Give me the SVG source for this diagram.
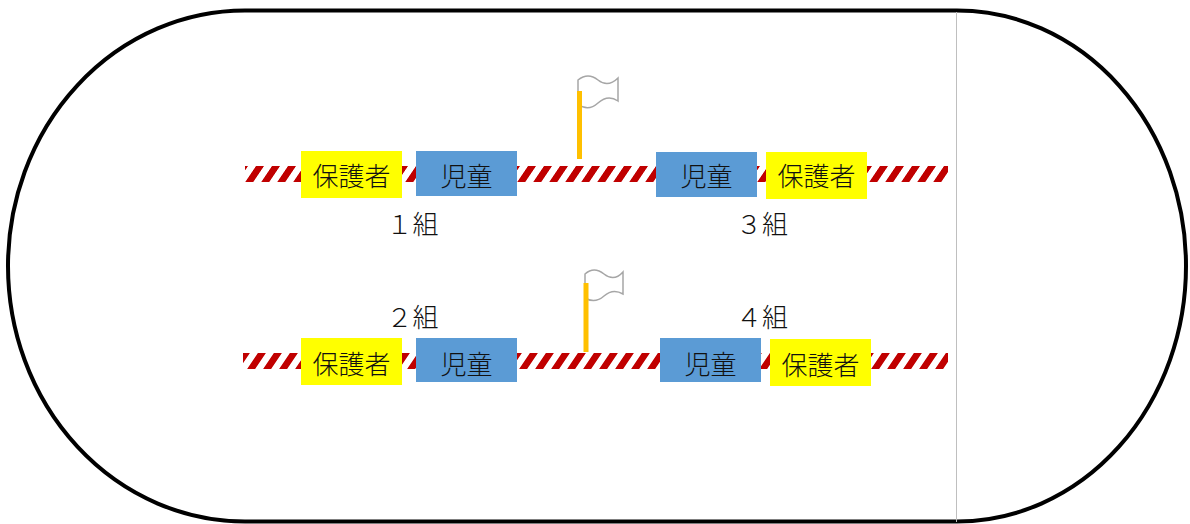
<svg xmlns="http://www.w3.org/2000/svg" width="1190" height="524" viewBox="0 0 1190 524">
  <style>
    .track{fill:none;stroke:#000;stroke-width:4}
    .divider{stroke:#BFBFBF;stroke-width:1}
    .stripe{fill:url(#stripes)}
    .guard{fill:#FFFF00}
    .child{fill:#5B9BD5}
    .t{font-family:"Noto Sans CJK JP","Noto Sans CJK SC",sans-serif;font-size:26px;font-weight:300;fill:#111;text-anchor:middle}
    .lbl{font-family:"Noto Sans CJK JP","Noto Sans CJK SC",sans-serif;font-size:26px;font-weight:300;fill:#111;text-anchor:middle}
    .pole{fill:#FFC000}
    .flag{fill:#fff;stroke:#A6A6A6;stroke-width:1.5}
  </style>
  <defs>
    <pattern id="stripes" patternUnits="userSpaceOnUse" width="16" height="16" patternTransform="skewX(-34)">
      <rect x="0" y="0" width="16" height="16" fill="#fff"/>
      <rect x="0" y="0" width="8" height="16" fill="#C00000"/>
    </pattern>
  </defs>
  <rect width="1190" height="524" fill="#fff"/>
  <g id="track">
    <path class="track" d="M245,10.5 L957,10.5 A229,255.5 0 0 1 957,521.5 L245,521.5 A237,255.5 0 0 1 245,10.5 Z"/>
    <line class="divider" x1="956.5" y1="12" x2="956.5" y2="522"/>
  </g>
  <g id="lines">
    <rect class="stripe" x="245" y="166" width="703" height="16"/>
    <rect class="stripe" x="243" y="353" width="705" height="16"/>
  </g>
  <g id="flag1">
    <path class="flag" d="M578,80 Q588,72 598,80 T618,78 L618,101 Q608,94 598,103 T578,104 Z"/>
    <rect class="pole" x="577" y="91" width="5" height="68"/>
  </g>
  <g id="flag2">
    <path class="flag" d="M585,274 Q594,266 604,274 T623,272 L623,294 Q613,288 604,296 T585,298 Z"/>
    <rect class="pole" x="583.5" y="283" width="5" height="69"/>
  </g>
  <g id="g1-guardian"><rect class="guard" x="301" y="151" width="101" height="47"/><text class="t" x="351.5" y="186">保護者</text></g>
  <g id="g1-child"><rect class="child" x="416" y="151" width="101" height="45"/><text class="t" x="466.5" y="186">児童</text></g>
  <g id="g3-child"><rect class="child" x="656" y="152" width="101" height="45"/><text class="t" x="706.5" y="186">児童</text></g>
  <g id="g3-guardian"><rect class="guard" x="766" y="152" width="101" height="47"/><text class="t" x="816.5" y="186">保護者</text></g>
  <g id="g2-guardian"><rect class="guard" x="301" y="338" width="101" height="47"/><text class="t" x="351.5" y="374">保護者</text></g>
  <g id="g2-child"><rect class="child" x="416" y="338" width="101" height="44"/><text class="t" x="466.5" y="374">児童</text></g>
  <g id="g4-child"><rect class="child" x="660" y="338" width="101" height="44"/><text class="t" x="710.5" y="374">児童</text></g>
  <g id="g4-guardian"><rect class="guard" x="770" y="339" width="101" height="47"/><text class="t" x="820.5" y="375">保護者</text></g>
  <g id="label1"><text class="lbl" x="412.5" y="234">１組</text></g>
  <g id="label3"><text class="lbl" x="762" y="234">３組</text></g>
  <g id="label2"><text class="lbl" x="412.5" y="327">２組</text></g>
  <g id="label4"><text class="lbl" x="762" y="327">４組</text></g>
  <g id="connectors"></g>
</svg>
